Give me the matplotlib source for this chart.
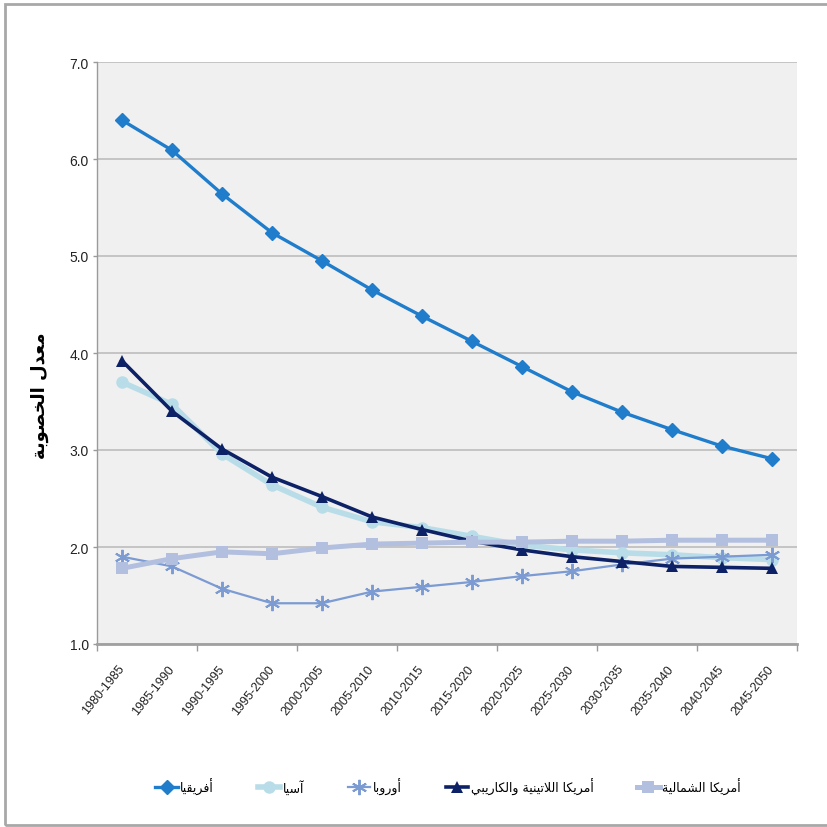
import numpy as np
import matplotlib
matplotlib.use("Agg")
import matplotlib.pyplot as plt
from matplotlib.patches import Rectangle
from matplotlib.transforms import ScaledTranslation

# periods on the x axis
periods = ["1980-1985", "1985-1990", "1990-1995", "1995-2000", "2000-2005",
           "2005-2010", "2010-2015", "2015-2020", "2020-2025", "2025-2030",
           "2030-2035", "2035-2040", "2040-2045", "2045-2050"]

# fertility rate by region
africa = [6.40, 6.09, 5.64, 5.24, 4.95, 4.65, 4.38, 4.12, 3.86, 3.60, 3.39, 3.21, 3.04, 2.91]
asia = [3.70, 3.47, 2.96, 2.64, 2.41, 2.26, 2.20, 2.11, 2.02, 1.97, 1.94, 1.92, 1.89, 1.87]
europe = [1.90, 1.80, 1.57, 1.42, 1.42, 1.54, 1.59, 1.64, 1.70, 1.75, 1.82, 1.88, 1.90, 1.92]
latin_america = [3.92, 3.40, 3.01, 2.72, 2.52, 2.31, 2.18, 2.06, 1.97, 1.90, 1.85, 1.80, 1.79, 1.78]
north_america = [1.78, 1.88, 1.95, 1.93, 1.99, 2.03, 2.04, 2.05, 2.05, 2.06, 2.06, 2.07, 2.07, 2.07]

region_names = ["أفريقيا", "آسيا", "أوروبا", "أمريكا اللاتينية والكاريبي", "أمريكا الشمالية"]
y_title = "معدل الخصوبة"

# --- minimal arabic shaping (matplotlib has no bidi / joining support) ---
# letter -> (isolated form in Presentation Forms-B, joins on both sides?)
AR_FORMS = {
    "\u0627": (0xFE8D, False), "\u0622": (0xFE81, False), "\u0623": (0xFE83, False),
    "\u0628": (0xFE8F, True), "\u0629": (0xFE93, False), "\u062A": (0xFE95, True),
    "\u062E": (0xFEA5, True), "\u062F": (0xFEA9, False), "\u0631": (0xFEAD, False),
    "\u0633": (0xFEB1, True), "\u0634": (0xFEB5, True), "\u0635": (0xFEB9, True),
    "\u0639": (0xFEC9, True), "\u0641": (0xFED1, True), "\u0642": (0xFED5, True),
    "\u0643": (0xFED9, True), "\u0644": (0xFEDD, True), "\u0645": (0xFEE1, True),
    "\u0646": (0xFEE5, True), "\u0648": (0xFEED, False), "\u064A": (0xFEF1, True),
}
LAM_ALEF = {"\u0627": 0xFEFB, "\u0623": 0xFEF7, "\u0622": 0xFEF5}


def shape_ar(text):
    tokens = []
    i = 0
    while i < len(text):
        ch = text[i]
        if ch == "\u0644" and i + 1 < len(text) and text[i + 1] in LAM_ALEF:
            tokens.append((LAM_ALEF[text[i + 1]], False))
            i += 2
            continue
        tokens.append(AR_FORMS.get(ch, ch))
        i += 1
    out = []
    for k, tok in enumerate(tokens):
        if isinstance(tok, str):
            out.append(tok)
            continue
        base, dual = tok
        prev = tokens[k - 1] if k > 0 else None
        nxt = tokens[k + 1] if k + 1 < len(tokens) else None
        join_prev = isinstance(prev, tuple) and prev[1]
        join_next = dual and isinstance(nxt, tuple)
        if join_prev and join_next:
            off = 3
        elif join_prev:
            off = 1
        elif join_next:
            off = 2
        else:
            off = 0
        out.append(chr(base + off))
    return "".join(out)[::-1]


latin_font = ["Liberation Sans Narrow", "Liberation Sans", "DejaVu Sans"]
plt.rcParams["font.family"] = latin_font

fig = plt.figure(figsize=(8.27, 8.28), dpi=100)
ax = fig.add_axes([97 / 827, 1 - 645 / 828, 700 / 827, 582 / 828])
ax.set_facecolor("#f0f0f0")

x = np.arange(len(periods))
series = [
    (africa, "#1f7dcb", "D", 7, 2.4, 1.0),
    (asia, "#b8dde9", "o", 9, 4.0, 0),
    (europe, "#7b9bd2", (6, 2, 0), 11, 1.6, 1.4),
    (latin_america, "#0d2167", "^", 8, 2.6, 0),
    (north_america, "#b3bfdf", "s", 8, 3.6, 0),
]
for (vals, color, marker, ms, lw, mew), name in zip(series, region_names):
    ax.plot(x, vals, color=color, marker=marker, markersize=ms, linewidth=lw,
            markeredgewidth=mew, markeredgecolor=color, markerfacecolor=color,
            label=shape_ar(name), zorder=3)

ax.set_xlim(-0.5, len(periods) - 0.5)
ax.set_ylim(1.0, 7.0)
ax.set_yticks(np.arange(1, 7.01, 1.0))
ax.set_yticklabels([f"{v:.1f}" for v in np.arange(1, 7.01, 1.0)])
ax.yaxis.grid(True, color="#c4c4c4", linewidth=1.4, zorder=0)
ax.set_axisbelow(True)

ax.set_xticks(x)
ax.set_xticklabels(periods, rotation=51, ha="right", va="center",
                   rotation_mode="anchor")
shift = ScaledTranslation(5 / 100, -2 / 100, fig.dpi_scale_trans)
for lbl in ax.get_xticklabels():
    lbl.set_transform(lbl.get_transform() + shift)
ax.set_xticks(np.arange(-0.5, len(periods), 2), minor=True)
ax.tick_params(axis="x", which="major", length=0, pad=16, labelsize=9,
               labelcolor="#222222")
ax.tick_params(axis="x", which="minor", length=5, width=1, color="#9a9a9a")
ax.tick_params(axis="y", length=3, width=1, color="#9a9a9a", labelsize=10,
               labelcolor="#222222", pad=3)

for side in ("top", "right"):
    ax.spines[side].set_visible(False)
ax.spines["left"].set_color("#9a9a9a")
ax.spines["left"].set_linewidth(1.0)
ax.spines["bottom"].set_color("#a0a0a0")
ax.spines["bottom"].set_linewidth(2.0)

fig.text(40 / 827, 1 - 396 / 828, shape_ar(y_title), rotation=90,
         ha="center", va="center", fontsize=13, fontweight="bold",
         family="DejaVu Sans")

leg = fig.legend(loc="center", bbox_to_anchor=(448 / 827, 1 - 787 / 828),
                 ncol=5, frameon=False, handlelength=1.8, columnspacing=3.5,
                 handletextpad=0.2, prop={"family": "DejaVu Sans", "size": 9})

# outer chart border
fig.patches.append(Rectangle((5 / 827, 2 / 828), 1.0, 1 - 7 / 828,
                             transform=fig.transFigure, fill=False,
                             edgecolor="#a8a8a8", linewidth=2.0))

fig.savefig("out.png", dpi=100)
